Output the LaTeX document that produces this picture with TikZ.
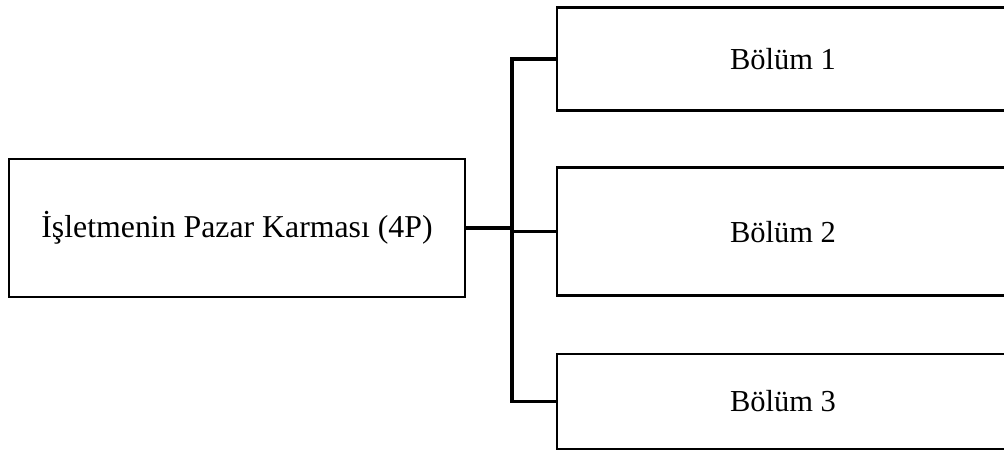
\documentclass[tikz,border=0pt]{standalone}
\usepackage{fontspec}
\setmainfont{Liberation Serif}
\begin{document}
\begin{tikzpicture}[x=1pt,y=-1pt,
  box/.style={draw=black, line width=2.4pt, fill=white, inner sep=0pt,
    font=\fontsize{30.5}{36}\selectfont},
  link/.style={draw=black, line width=3.4pt}]
\useasboundingbox (0,0) rectangle (1004,450);
\clip (0,0) rectangle (1004,450);
\fill[white] (0,0) rectangle (1004,450);
\node[box, minimum width=456pt, minimum height=138pt, font=\fontsize{31.8}{38}\selectfont] (L) at (237,228) {İşletmenin Pazar Karması (4P)};
\node[box, minimum width=452pt, minimum height=103pt] (B1) at (783,59) {Bölüm 1};
\node[box, minimum width=452pt, minimum height=128pt] (B2) at (783,231.6) {Bölüm 2};
\node[box, minimum width=452pt, minimum height=95pt] (B3) at (783,401.5) {Bölüm 3};
\coordinate (bt) at (512,59);
\coordinate (bb) at (512,401.5);
\draw[link, line cap=rect] (bt) -- (bb);
\draw[link] (L.east) -- (L.east -| bt);
\draw[link] (bt) -- (B1.west);
\draw[link] (B2.west -| bt) -- (B2.west);
\draw[link] (bb) -- (B3.west);
\end{tikzpicture}
\end{document}
